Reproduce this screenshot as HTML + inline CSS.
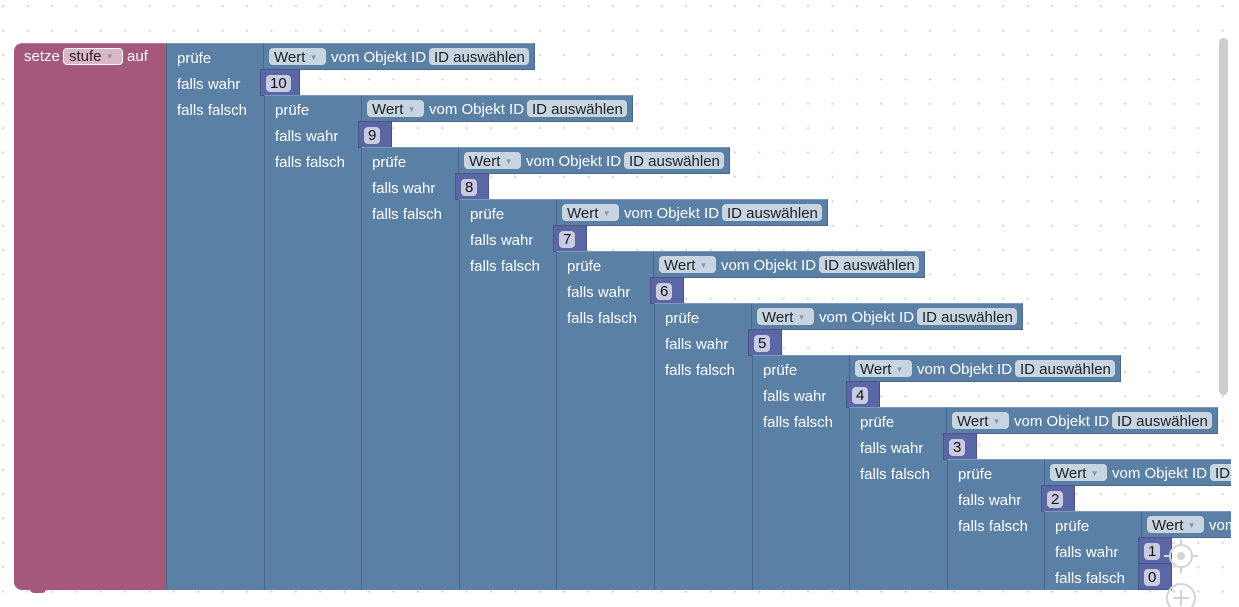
<!DOCTYPE html>
<html><head><meta charset="utf-8">
<style>
html,body{margin:0;padding:0}
body{width:1239px;height:607px;position:relative;overflow:hidden;background:#fff;font-family:"Liberation Sans",Arial,sans-serif}
#ws{position:absolute;left:0;top:0;width:1231px;height:607px;overflow:hidden;
background-image:radial-gradient(circle,#d8d8d8 1px,transparent 1.4px);background-size:24.4px 24.4px;background-position:-9px -6px}
.b{position:absolute;box-sizing:border-box}
.col{background:#5b80a5;border-left:1px solid #48698b;border-top:1px solid #7c9bbb}
.row{background:#5b80a5;border:1px solid #48698b;border-top-color:#7c9bbb}
.lbl{position:absolute;color:#fff;font-size:15px;line-height:18px;white-space:nowrap}
.fld{position:absolute;height:17px;border-radius:4px;background:#c7d4e2;color:#222;font-size:15px;line-height:17px;padding:0 5px;box-sizing:border-box;white-space:nowrap}
.num{background:#5b67a5;border:1px solid #49538a}
.nf{position:absolute;left:5px;top:5px;height:17px;border-radius:4px;background:#c8cbe2;color:#111;font-size:15px;line-height:17px;padding:0 4px}
.arr{font-size:8px;color:#8a97a8;vertical-align:2px}
</style></head><body>
<div id="ws">
  <div class="b" style="left:14px;top:43px;width:153px;height:547px;background:#a5597a;border-radius:8px 0 0 8px;border-top:1px solid #c07e9a"></div>
  <div class="b" style="left:30px;top:588px;width:16px;height:5px;background:#a5597a;border-radius:0 0 4px 4px"></div>
  <div class="lbl" style="left:24px;top:48px">setze</div>
  <div class="fld" style="left:63px;top:48px;width:60px;background:#dbb5c8;border:1px solid #fff;line-height:15px">stufe <span class="arr">▼</span></div>
  <div class="lbl" style="left:127px;top:48px">auf</div>
</div>
<div class="b" style="left:1219px;top:38px;width:9px;height:357px;background:#cdcdcd;border-radius:5px"></div>
<svg class="b" style="left:1160px;top:536px" width="44" height="71">
  <g fill="none" stroke="#d4d4d4" stroke-width="2">
    <circle cx="21" cy="20" r="11"/><line x1="21" y1="3" x2="21" y2="9"/><line x1="21" y1="31" x2="21" y2="37"/><line x1="4" y1="20" x2="10" y2="20"/><line x1="32" y1="20" x2="38" y2="20"/>
  </g>
  <circle cx="21" cy="20" r="4" fill="#d4d4d4"/>
  <g fill="none" stroke="#d4d4d4" stroke-width="2">
    <circle cx="21" cy="62" r="14"/><line x1="21" y1="54" x2="21" y2="70"/><line x1="13" y1="62" x2="29" y2="62"/>
  </g>
</svg>
<script>
const values = ["10","9","8","7","6","5","4","3","2","1"];
const ws = document.getElementById('ws');
function mk(cls, name, inter, st, txt){
  const d = document.createElement('div');
  d.className = cls;
  
  
  d.style.cssText = st;
  if (txt !== undefined) d.innerHTML = txt;
  ws.appendChild(d);
  return d;
}
values.forEach((v, i) => {
  const x = Math.round(166 + 97.6 * i), y = 43 + 52 * i;
  mk('b col', 'ternary-block', 'true', `left:${x}px;top:${y}px;width:98px;height:${590 - y}px`);
  mk('b row', 'value-block', 'true', `left:${x + 97}px;top:${y}px;width:272px;height:27px`);
  mk('lbl', 'pruefe-label', 'false', `left:${x + 11}px;top:${y + 7}px`, 'prüfe');
  mk('lbl', 'falls-wahr-label', 'false', `left:${x + 11}px;top:${y + 33}px`, 'falls wahr');
  mk('lbl', 'falls-falsch-label', 'false', `left:${x + 11}px;top:${y + 59}px`, 'falls falsch');
  mk('fld', 'wert-dropdown', 'true', `left:${x + 103}px;top:${y + 5}px;width:57px;line-height:19px`, 'Wert <span class="arr">▼</span>');
  mk('lbl', 'vom-objekt-id-label', 'false', `left:${x + 165}px;top:${y + 6}px`, 'vom Objekt ID');
  mk('fld', 'id-select-field', 'true', `left:${x + 263}px;top:${y + 5}px;width:100px;line-height:19px`, 'ID auswählen');
  const w = v.length > 1 ? 40 : 34;
  const nb = mk('b num', 'number-block', 'true', `left:${x + 94}px;top:${y + 26}px;width:${w}px;height:27px`);
  const nf = document.createElement('div');
  nf.className = 'nf';
  
  
  nf.textContent = v;
  nb.appendChild(nf);
  if (i === values.length - 1) {
    const nb2 = mk('b num', 'number-block', 'true', `left:${x + 94}px;top:${y + 52}px;width:34px;height:27px`);
    const nf2 = document.createElement('div');
    nf2.className = 'nf';
    
    
    nf2.textContent = '0';
    nb2.appendChild(nf2);
  }
});
</script>
</body></html>
